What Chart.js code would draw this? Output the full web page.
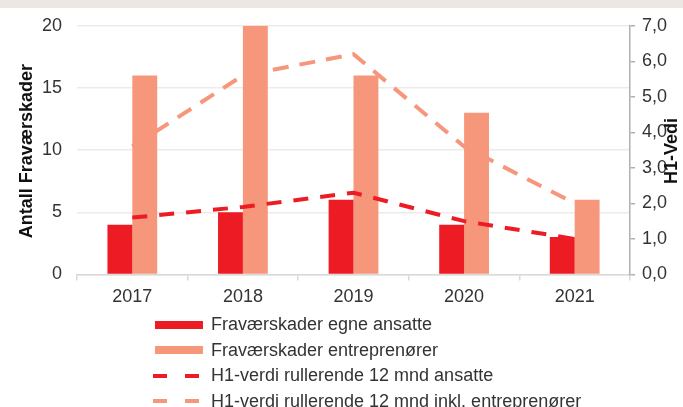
<!DOCTYPE html>
<html>
<head>
<meta charset="utf-8">
<script src="https://cdn.jsdelivr.net/npm/chart.js@4.4.1/dist/chart.umd.min.js"></script>
<style>
  body { margin: 0; background: #fff; width: 683px; height: 407px; overflow: hidden; position: relative; font-family: "Liberation Sans", Arial, sans-serif; }
  #band { position: absolute; left: 0; top: 0; width: 683px; height: 8px; background: #ede7e3; }
  #chart { position: absolute; left: 0; top: 0; }
  #legend { position: absolute; left: 153px; top: 312px; }
  .item { display: flex; align-items: center; height: 25.5px; font-size: 18px; color: #333; }
  .sw { width: 50px; margin-right: 8px; display: flex; align-items: center; }
</style>
</head>
<body>
<div id="band"></div>
<canvas id="chart" width="683" height="317"></canvas>
<div id="legend"></div>
<script>
    // data
    const years = ['2017', '2018', '2019', '2020', '2021'];
    const skaderAnsatte = [4, 5, 6, 4, 3];
    const skaderEntreprenorer = [16, 20, 16, 13, 6];
    const h1Ansatte = [1.6, 1.9, 2.3, 1.5, 1.0];
    const h1Inkl = [3.6, 5.6, 6.2, 3.6, 2.0];

    const labels = ['Fraværskader egne ansatte', 'Fraværskader entreprenører',
        'H1-verdi rullerende 12 mnd ansatte', 'H1-verdi rullerende 12 mnd inkl. entreprenører'];

    const RED = '#ed1c24';
    const SALMON = '#f6967a';
    const FONT = { family: '"Liberation Sans", Arial, sans-serif', size: 18 };

    // axis titles drawn over the canvas
    const axisTitles = {
    id: 'axisTitles',
    afterDraw(chart) {
    const ctx = chart.ctx;
    const mid = (chart.chartArea.top + chart.chartArea.bottom) / 2;
    ctx.save();
    ctx.font = 'bold 18px "Liberation Sans", Arial, sans-serif';
    ctx.fillStyle = '#111';
    ctx.textAlign = 'center';
    ctx.textBaseline = 'middle';
    ctx.translate(27, mid + 1);
    ctx.rotate(-Math.PI / 2);
    ctx.fillText('Antall Fraværskader', 0, 0);
    ctx.restore();
    ctx.save();
    ctx.font = 'bold 18px "Liberation Sans", Arial, sans-serif';
    ctx.fillStyle = '#111';
    ctx.textAlign = 'center';
    ctx.textBaseline = 'middle';
    ctx.translate(672, mid + 1);
    ctx.rotate(-Math.PI / 2);
    ctx.fillText('H1-Vedi', 0, 0);
    ctx.restore();
}
};

    new Chart(document.getElementById('chart').getContext('2d'), {
    type: 'bar',
    data: {
    labels: years,
    datasets: [
{
    type: 'line',
    label: labels[2],
    yAxisID: 'y1',
    data: h1Ansatte,
    borderColor: RED,
    borderWidth: 4,
    borderDash: [15, 12],
    pointRadius: 0,
    order: 0
},
{
    type: 'line',
    label: labels[3],
    yAxisID: 'y1',
    data: h1Inkl,
    borderColor: SALMON,
    borderWidth: 4,
    borderDash: [16, 11],
    pointRadius: 0,
    order: 0
},
{
    label: labels[0],
    yAxisID: 'y',
    data: skaderAnsatte,
    backgroundColor: RED,
    categoryPercentage: 0.45,
    barPercentage: 1,
    order: 1
},
{
    label: labels[1],
    yAxisID: 'y',
    data: skaderEntreprenorer,
    backgroundColor: SALMON,
    categoryPercentage: 0.45,
    barPercentage: 1,
    order: 1
}]
},
    options: {
    responsive: false,
    animation: false,
    layout: { padding: { top: 12, left: 27, right: 9, bottom: 3 } },
    plugins: {
    legend: { display: false },
    tooltip: { enabled: false }
},
    scales: {
    x: {
    grid: { offset: true, drawOnChartArea: false, tickLength: 6, color: '#d9d9d9', lineWidth: 1.5 },
    border: { color: '#d9d9d9', width: 1.5 },
    ticks: { font: FONT, color: '#333', padding: 6 }
},
    y: {
    position: 'left',
    min: 0,
    max: 20,
    ticks: { stepSize: 5, font: FONT, color: '#333', padding: 15 },
    grid: { drawTicks: false, color: '#efe9e7', lineWidth: 1.5 },
    border: { display: false }
},
    y1: {
    position: 'right',
    min: 0,
    max: 7,
    ticks: { stepSize: 1, font: FONT, color: '#333', padding: 7,
    callback: v => v.toFixed(1).replace('.', ',') },
    grid: { drawOnChartArea: false, tickLength: 5, color: '#b0b0b0', lineWidth: 1.5 },
    border: { color: '#b0b0b0', width: 1.5 }
}
}
},
    plugins: [axisTitles]
});

    // legend, one row per series
    const legend = document.getElementById('legend');
    const swatches = [
    `<div style="margin-left:2px;width:48px;height:8px;background:${RED}"></div>`,
    `<div style="margin-left:2px;width:48px;height:8px;background:${SALMON}"></div>`,
    `<div style="width:46px;height:4px;background:linear-gradient(to right, ${RED} 0 14px, transparent 14px 32px, ${RED} 32px 46px)"></div>`,
    `<div style="width:46px;height:4px;background:linear-gradient(to right, ${SALMON} 0 14px, transparent 14px 32px, ${SALMON} 32px 46px)"></div>`
];
    for (let i = 0; i < labels.length; i++) {
    const row = document.createElement('div');
    row.className = 'item';
    row.innerHTML = `<div class="sw">${swatches[i]}</div><span>${labels[i]}</span>`;
    legend.appendChild(row);
}
</script>
</body>
</html>
